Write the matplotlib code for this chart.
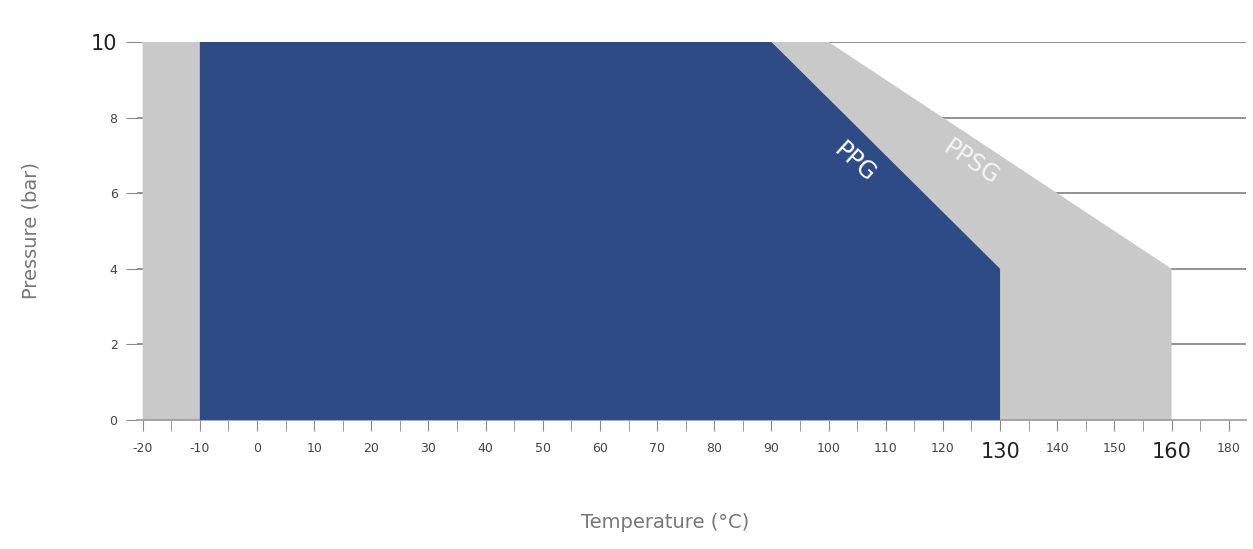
import matplotlib.pyplot as plt

# PPSG (grey) and PPG (blue) pressure/temperature envelopes
ppsg_temp = [-20, -20, 100, 160, 160]
ppsg_pres = [0, 10, 10, 4, 0]
ppg_temp = [-10, -10, 90, 130, 130]
ppg_pres = [0, 10, 10, 4, 0]

x_ticks = list(range(-20, 171, 10))
x_labels = ['-20', '-10', '0', '10', '20', '30', '40', '50', '60', '70', '80',
            '90', '100', '110', '120', '130', '140', '150', '160', '180']
y_ticks = [0, 2, 4, 6, 8, 10]
big_labels = ['130', '160']

blue = '#2f4b86'
grey = '#c9c9c9'

fig = plt.figure(figsize=(12.53, 5.49), dpi=100)
ax = fig.add_axes([0.1093, 0.235, 0.885, 0.6885])

for y in y_ticks[1:]:
    ax.axhline(y, color='#7f7f7f', lw=1.2, zorder=1)

ax.fill(ppsg_temp, ppsg_pres, color=grey, lw=0, zorder=2)
ax.fill(ppg_temp, ppg_pres, color=blue, lw=0, zorder=3)

ax.text(104.5, 6.8, 'PPG', color='white', fontsize=17, rotation=-42,
        ha='center', va='center', zorder=4)
ax.text(125, 6.8, 'PPSG', color='#f4f4f4', fontsize=17, rotation=-34,
        ha='center', va='center', zorder=4)

ax.set_xlim(-21, 173)
ax.set_ylim(0, 10)

for s in ['top', 'right', 'left']:
    ax.spines[s].set_visible(False)
ax.spines['bottom'].set_color('#9a9a9a')
ax.spines['bottom'].set_linewidth(1.2)

ax.set_xticks(x_ticks)
ax.set_xticklabels(x_labels)
ax.set_xticks(range(-15, 171, 10), minor=True)
ax.tick_params(axis='x', which='both', length=8, color='#8a8a8a',
               labelsize=9, labelcolor='#444444', pad=8)
for lab in ax.get_xticklabels():
    if lab.get_text() in big_labels:
        lab.set_fontsize(15)
        lab.set_color('#222222')

ax.set_yticks(y_ticks)
ax.set_yticklabels([str(v) for v in y_ticks])
ax.tick_params(axis='y', length=8, color='#8a8a8a', labelsize=9,
               labelcolor='#444444', pad=6)
ax.get_yticklabels()[-1].set_fontsize(15)
ax.get_yticklabels()[-1].set_color('#222222')

ax.set_xlabel('Temperature (\u00b0C)', fontsize=14, color='#777777')
ax.xaxis.set_label_coords(0.476, -0.245)
ax.set_ylabel('Pressure (bar)', fontsize=14, color='#777777')
ax.yaxis.set_label_coords(-0.087, 0.5)

fig.savefig('out.png', dpi=100)
